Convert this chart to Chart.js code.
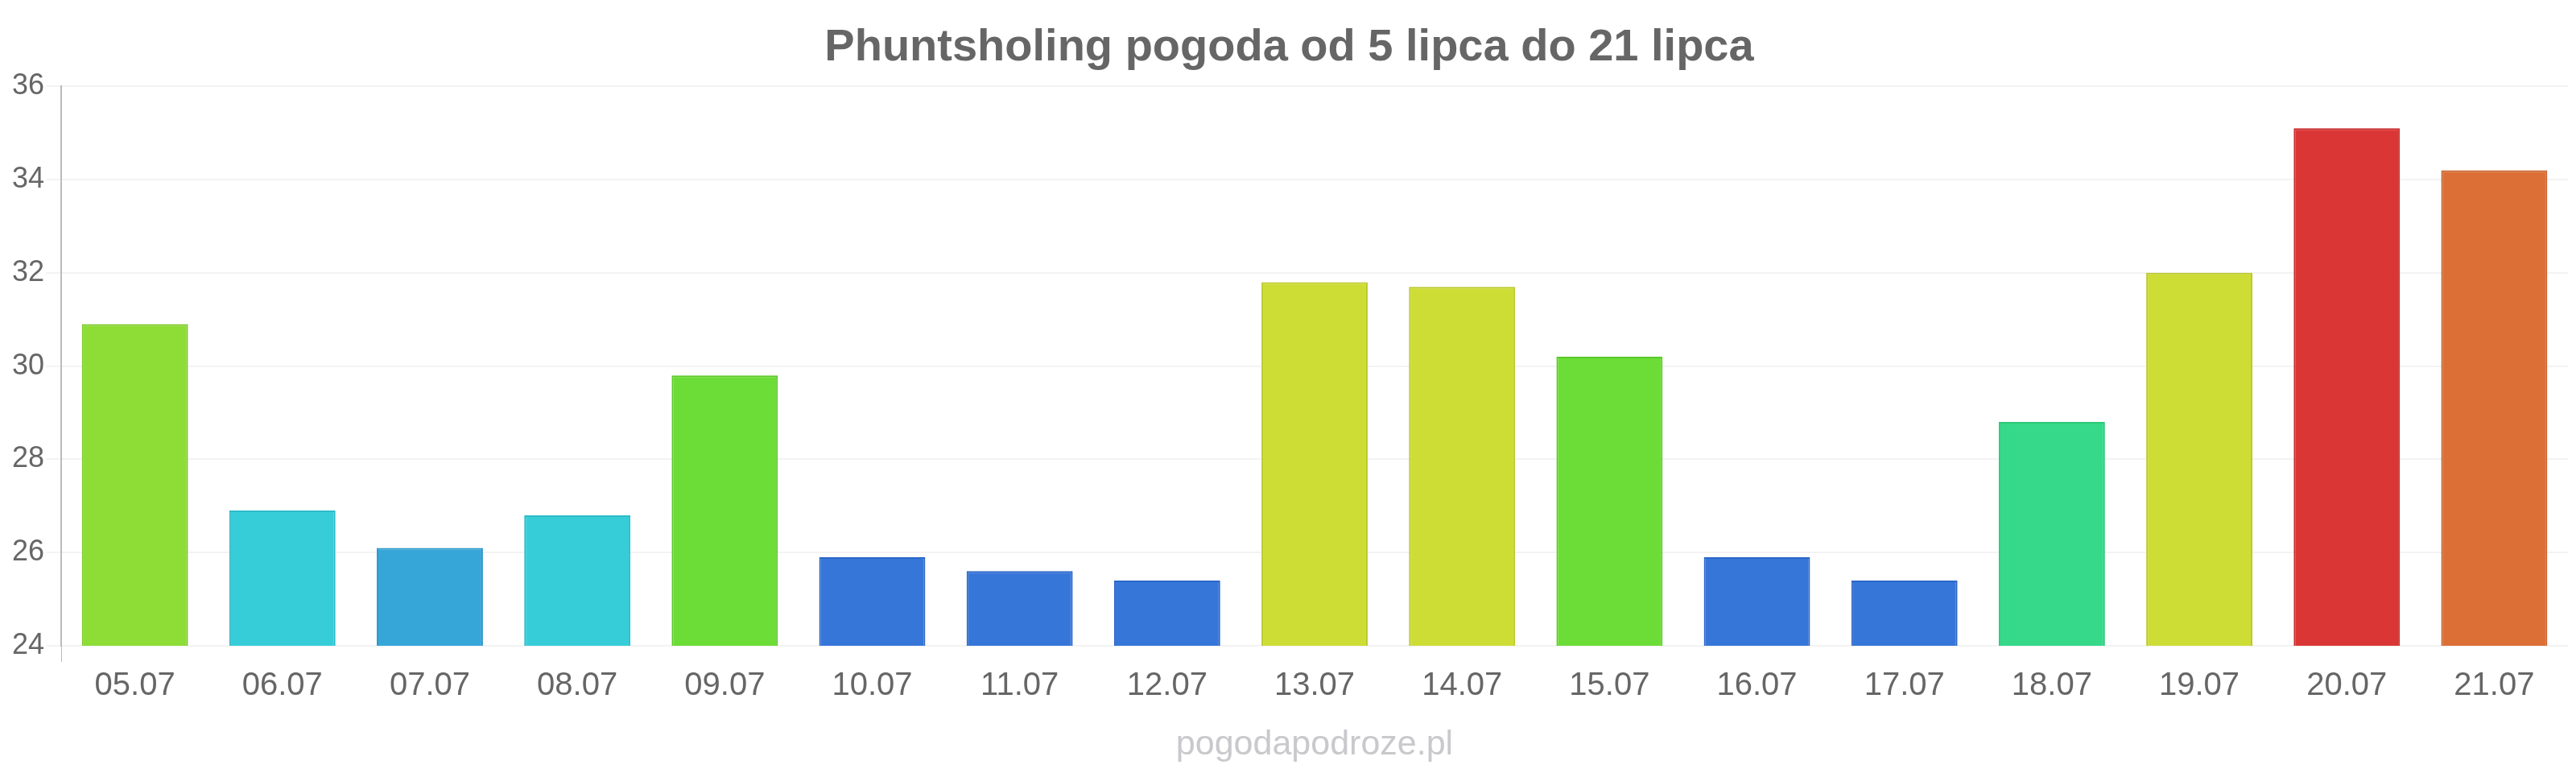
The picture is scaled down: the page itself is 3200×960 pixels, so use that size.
<!DOCTYPE html>
<html lang="pl">
<head>
  <meta charset="UTF-8">
  <title>Phuntsholing pogoda</title>
  <script src="https://cdn.jsdelivr.net/npm/chart.js"></script>
  <style>
    * { box-sizing: border-box; margin: 0; padding: 0; }
    body { background: #fff; width: 3200px; height: 960px; overflow: hidden; }
    .wrap { position: relative; width: 3200px; height: 960px; }
    #mark { position: absolute; top: 898px; font-family: "Liberation Sans", Arial, sans-serif; font-size: 43px; color: #c9c9cd; transform: translateX(-50%); white-space: nowrap; }
  </style>
</head>
<body>
  <div class="wrap">
    <canvas id="chart"></canvas>
    <div id="mark">pogodapodroze.pl</div>
  </div>
  <script>
    // dane
    const days = ['05.07','06.07','07.07','08.07','09.07','10.07','11.07','12.07','13.07','14.07','15.07','16.07','17.07','18.07','19.07','20.07','21.07'];
    const temps = [30.9, 26.9, 26.1, 26.8, 29.8, 25.9, 25.6, 25.4, 31.8, 31.7, 30.2, 25.9, 25.4, 28.8, 32.0, 35.1, 34.2];
    const fillColors = ['#8ddd36','#36cdd9','#36a6d9','#36cdd9','#6cdd36','#3676d9','#3676d9','#3676d9','#cedd36','#cedd36','#6cdd36','#3676d9','#3676d9','#36d98a','#cedd36','#db3636','#dc6f36'];
    const borderColors = ['#7bc72a','#2cbcc8','#2b95c8','#2cbcc8','#5cc82a','#2c66c8','#2c66c8','#2c66c8','#bcc82a','#bcc82a','#5cc82a','#2c66c8','#2c66c8','#2cc87a','#bcc82a','#c82c2c','#c8602c'];
    const yMin = 24, yMax = 36, yStep = 2;

    const font = '"Liberation Sans", Arial, sans-serif';
    const mark = document.getElementById('mark');

    // znak wodny wyśrodkowany nad obszarem wykresu
    const markPlugin = {
      id: 'markPos',
      afterRender(chart) {
        const a = chart.chartArea;
        mark.style.left = ((a.left + a.right) / 2) + 'px';
      }
    };

    new Chart(document.getElementById('chart').getContext('2d'), {
      type: 'bar',
      data: {
        labels: days,
        datasets: [{
          data: temps,
          backgroundColor: fillColors,
          borderColor: borderColors,
          borderWidth: 2
        }]
      },
      options: {
        responsive: true,
        maintainAspectRatio: false,
        animation: false,
        layout: { padding: { left: 13, right: 10, top: 0, bottom: 78 } },
        plugins: {
          legend: { display: false },
          tooltip: { enabled: false },
          title: {
            display: true,
            text: 'Phuntsholing pogoda od 5 lipca do 21 lipca',
            color: '#666',
            font: { family: font, size: 56, weight: 'bold' },
            padding: { top: 26, bottom: 14 }
          }
        },
        scales: {
          x: {
            grid: {
              drawOnChartArea: false,
              drawTicks: true,
              tickLength: 20,
              color: ctx => ctx.index === 0 ? '#bbb' : 'rgba(0,0,0,0)'
            },
            border: { display: false },
            ticks: { color: '#666', font: { family: font, size: 40 }, padding: 6 }
          },
          y: {
            min: yMin,
            max: yMax,
            grid: { color: '#f3f3f3', lineWidth: 2, tickLength: 19 },
            border: { color: '#bbb', width: 2 },
            ticks: { stepSize: yStep, color: '#666', font: { family: font, size: 36 }, padding: 2 }
          }
        }
      },
      plugins: [markPlugin]
    });
  </script>
</body>
</html>
